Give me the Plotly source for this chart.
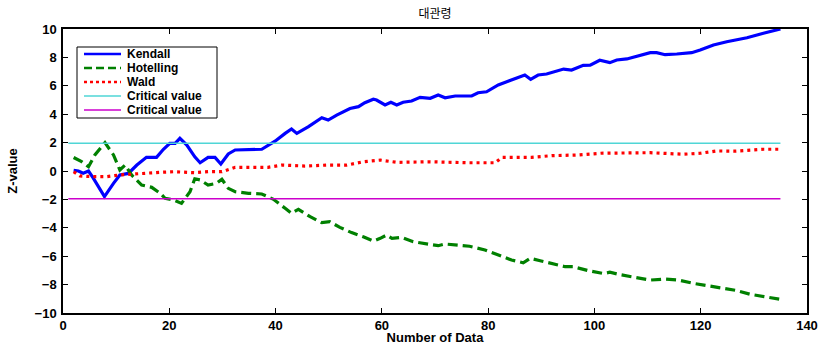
import plotly.graph_objects as go

# ---- data ----
kendall_x = [2, 2.9, 3.8, 4.8, 5.7, 7.8, 9.5, 10.7, 12.3, 13.9, 15.7, 17.6, 18.9, 20.1, 21.1, 22, 23.3, 24.8,
             25.8, 27.3, 28.6, 29.7, 31.1, 32.4, 37.4, 39.9, 41.8, 43, 44, 46.2, 48.7, 49.9, 51.5, 54, 55.6,
             56.8, 58.4, 59, 60.6, 61.7, 62.8, 64, 65.6, 67.2, 69.1, 70.6, 71.9, 73.8, 76.9, 78.1, 79.7,
             81.9, 83.5, 85.4, 86.9, 88, 89.4, 91, 92.6, 94.2, 95.7, 97.9, 99.2, 101, 102.9, 104.2, 106.1,
             108.6, 110.5, 111.7, 113.3, 115.5, 118.3, 119.9, 122.4, 124.9, 128.7, 131.8, 135]
kendall_y = [0.05, 0.0, -0.16, 0.0, -0.5, -1.8, -0.87, -0.28, -0.17, 0.42, 0.96, 0.96, 1.53, 1.95, 1.95, 2.3,
             1.83, 1.0, 0.58, 0.96, 0.96, 0.49, 1.2, 1.48, 1.53, 2.1, 2.65, 2.96, 2.65, 3.12, 3.75, 3.59,
             3.94, 4.4, 4.53, 4.81, 5.05, 5.0, 4.65, 4.84, 4.65, 4.84, 4.93, 5.19, 5.12, 5.35, 5.16, 5.28,
             5.28, 5.51, 5.58, 6.06, 6.29, 6.53, 6.76, 6.46, 6.76, 6.83, 6.99, 7.18, 7.11, 7.44, 7.46, 7.8,
             7.63, 7.82, 7.89, 8.17, 8.33, 8.33, 8.19, 8.24, 8.33, 8.52, 8.87, 9.1, 9.38, 9.7, 10.0]

hotelling_x = [2, 3.5, 4.8, 6, 7.9, 9.5, 10.7, 11.7, 12.9, 14.8, 16.7, 18.3, 19.2, 20.8, 22.3, 23.9, 24.8,
               25.8, 27.3, 28.9, 29.9, 31.1, 32.4, 34.9, 37.4, 39.6, 41.8, 43, 44.3, 46.5, 48.7, 50.2, 52.1,
               54.3, 56.5, 58.4, 59.7, 60.9, 61.9, 63.7, 65.9, 68.4, 70.6, 71.9, 74.1, 76.5, 79.4, 81.9,
               84.4, 86.6, 87.9, 89.8, 92, 94.5, 96, 98.9, 101.7, 102.9, 105.1, 107.6, 110.5, 113.3, 115.8,
               118.6, 121.1, 124.3, 126.5, 129.3, 132.4, 135]
hotelling_y = [0.95, 0.66, 0.3, 1.13, 2.0, 1.13, 0.07, 0.42, -0.28, -0.99, -1.15, -1.57, -1.92, -2.04, -2.28,
               -1.46, -0.55, -0.63, -0.99, -0.87, -0.58, -1.22, -1.46, -1.57, -1.62, -1.99, -2.63, -2.98,
               -2.7, -3.22, -3.64, -3.57, -3.97, -4.34, -4.63, -4.93, -4.74, -4.51, -4.74, -4.67, -4.98,
               -5.14, -5.26, -5.14, -5.21, -5.3, -5.56, -5.92, -6.27, -6.46, -6.15, -6.32, -6.5, -6.74,
               -6.74, -7.02, -7.22, -7.13, -7.32, -7.49, -7.68, -7.61, -7.68, -7.91, -8.08, -8.26, -8.4,
               -8.68, -8.85, -9.04]

wald_x = [2, 3.2, 5.7, 8.2, 10.7, 13.2, 15.7, 18.3, 20.8, 24.7, 27.3, 29.9, 32.4, 38.6, 41.2, 45.5, 50,
          53.4, 56.5, 59.7, 62.8, 69.1, 76.2, 81.3, 82.6, 88.2, 92, 97, 101.2, 110.5, 116.7, 119.9, 123,
          126.5, 131.8, 135]
wald_y = [-0.05, -0.35, -0.4, -0.4, -0.28, -0.21, -0.12, -0.09, -0.05, -0.12, -0.05, -0.05, 0.26, 0.26,
          0.42, 0.35, 0.42, 0.42, 0.65, 0.77, 0.61, 0.65, 0.58, 0.58, 0.96, 0.96, 1.08, 1.13, 1.25, 1.29,
          1.18, 1.25, 1.41, 1.4, 1.53, 1.53]

crit_x = [1, 135]
crit_upper = [1.96, 1.96]
crit_lower = [-1.96, -1.96]

x_ticks = [0, 20, 40, 60, 80, 100, 120, 140]
y_ticks = [-10, -8, -6, -4, -2, 0, 2, 4, 6, 8, 10]

series_names = ["Kendall", "Hotelling", "Wald", "Critical value", "Critical value"]
series_colors = ["#0000ff", "#008000", "#ff0000", "#4fd6d6", "#cc00cc"]
series_dash = ["solid", "10px,5px", "3px,4px", "solid", "solid"]
series_width = [3.2, 3.2, 3.2, 1.5, 1.5]

FONT = "Liberation Sans"

# plot-area geometry in pixels (for the compact legend box)
L, R, T, B = 63, 807, 29, 313
W, H = R - L, B - T


def px(xp):
    return (xp - L) / W


def py(yp):
    return (B - yp) / H


fig = go.Figure()
xs = [kendall_x, hotelling_x, wald_x, crit_x, crit_x]
ys = [kendall_y, hotelling_y, wald_y, crit_upper, crit_lower]
for i in range(5):
    fig.add_trace(go.Scatter(x=xs[i], y=ys[i], mode="lines", name=series_names[i], showlegend=False,
                             line=dict(color=series_colors[i], width=series_width[i], dash=series_dash[i])))

# compact legend (MATLAB style)
shapes = [dict(type="rect", xref="paper", yref="paper", x0=px(77), x1=px(217), y0=py(118), y1=py(47),
               line=dict(color="black", width=1), fillcolor="white", layer="above")]
annotations = []
row_y = [54, 68, 82, 96, 110]
for i in range(5):
    shapes.append(dict(type="line", xref="paper", yref="paper", x0=px(84), x1=px(121),
                       y0=py(row_y[i]), y1=py(row_y[i]), layer="above",
                       line=dict(color=series_colors[i], width=2.5 if i < 3 else 1.5,
                                 dash=["solid", "8px,4px", "3px,3px", "solid", "solid"][i])))
    annotations.append(dict(xref="paper", yref="paper", x=px(125), y=py(row_y[i]), xanchor="left",
                            yanchor="middle", showarrow=False, text=series_names[i],
                            font=dict(family=FONT, size=12, color="black", weight="bold")))

axis_common = dict(showgrid=False, zeroline=False, showline=True, linecolor="black", linewidth=1.5,
                   mirror="ticks", ticks="inside", ticklen=5, tickwidth=1, tickcolor="black",
                   automargin=False,
                   tickfont=dict(family=FONT, size=13, color="black", weight="bold"))

fig.update_layout(
    width=821, height=345,
    margin=dict(l=L, r=821 - R, t=T, b=345 - B),
    plot_bgcolor="white", paper_bgcolor="white",
    title=dict(text="대관령", x=0.5 * (L + R) / 821, xanchor="center", y=1 - 14 / 345, yanchor="middle",
               font=dict(family="Noto Sans CJK KR", size=12, color="black")),
    xaxis=dict(range=[0, 140], tickvals=x_ticks, ticklabelstandoff=0, **axis_common,
               title=dict(text="Number of Data", standoff=1,
                          font=dict(family=FONT, size=13, color="black", weight="bold"))),
    yaxis=dict(range=[-10, 10], tickvals=y_ticks, ticklabelstandoff=2, **axis_common,
               title=dict(text="Z-value", standoff=14,
                          font=dict(family=FONT, size=13, color="black", weight="bold"))),
    shapes=shapes,
    annotations=annotations,
    showlegend=False,
)

fig.write_html("out.html")
